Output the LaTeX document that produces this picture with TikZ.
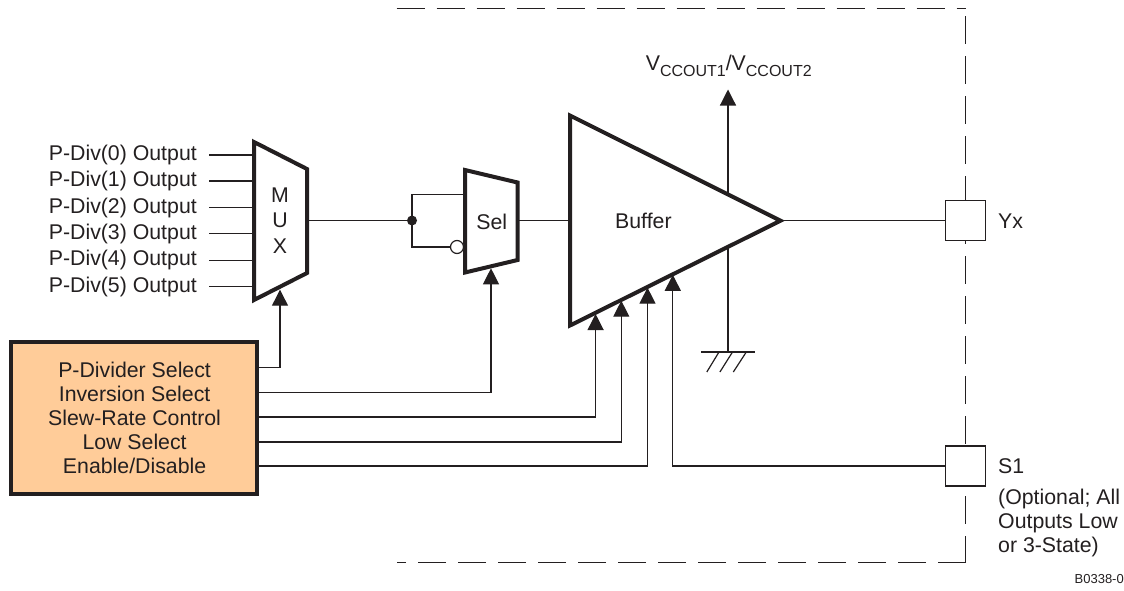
\documentclass[tikz,border=0pt]{standalone}
\usepackage{fontspec}
\setmainfont{Liberation Sans}
\usetikzlibrary{arrows.meta}
\definecolor{ink}{HTML}{231F20}
\definecolor{boxfill}{HTML}{FFCC99}
\tikzset{
  wire/.style={draw=ink,line width=1.2pt},
  arrowwire/.style={wire,-{Triangle[length=16pt,width=16pt]}},
  heavy/.style={draw=ink,line width=4pt,line join=miter,fill=white},
  txt/.style={text=ink,inner sep=0pt,font=\fontsize{21.3}{24}\selectfont},
  pad/.style={draw=ink,line width=1.2pt,fill=white,minimum width=40pt,minimum height=40pt,inner sep=0pt},
  boundary/.style={draw=ink,line width=1.3pt,dash pattern=on 28pt off 12pt}
}
\begin{document}
\begin{tikzpicture}[x=1pt,y=-1pt]
\useasboundingbox (0,0) rectangle (1124,590);
% boundary
\coordinate (bA) at (396.7,8.5);
\coordinate (bB) at (966.3,8.5);
\coordinate (bV) at (965.5,16);
\coordinate (bC) at (965.5,563);
\coordinate (bE) at (966,562.7);
\coordinate (bD) at (396.7,562.7);
\draw[boundary] (bA) -- (bB);
\draw[boundary] (bV) -- (bC);
\draw[boundary] (bE) -- (bD);
% MUX
\coordinate (m1) at (254,142);
\coordinate (m2) at (307,169);
\coordinate (m3) at (307,273);
\coordinate (m4) at (254,300);
\coordinate (mout) at (307,220.5);
\coordinate (msel) at (280,289.7);
% Sel
\coordinate (s1) at (465,170);
\coordinate (s2) at (517.6,182.5);
\coordinate (s3) at (517.6,260);
\coordinate (s4) at (465,272.5);
\coordinate (sout) at (517.6,220.5);
\coordinate (stop) at (465,194.7);
\coordinate (ssel) at (491,268.3);
% Buffer
\coordinate (b1) at (570,115.5);
\coordinate (b2) at (780.5,220.7);
\coordinate (b3) at (570,325.5);
\coordinate (bin) at (570,220.5);
\coordinate (t1) at (595.6,314);
\coordinate (t2) at (621.3,300.7);
\coordinate (t3) at (647.5,287.6);
\coordinate (t4) at (672.8,274.8);
\coordinate (vtop) at (728,195);
\coordinate (vtip) at (728,89.5);
\coordinate (gnd) at (728,352);
\coordinate (jn) at (412,220.5);
\coordinate (bub) at (457,247);
% control box
\node[heavy,fill=boxfill,minimum width=246pt,minimum height=152pt,inner sep=0pt] (ctl) at (133.8,417.5) {};
\node[txt,align=center] (ctltxt) at (134.6,418) {P-Divider Select\\Inversion Select\\Slew-Rate Control\\Low Select\\Enable/Disable};
% pads
\node[pad] (yx) at (965.5,220.7) {};
\node[pad] (sone) at (965.5,466) {};
% inputs
\foreach \i/\yy in {0/155,1/181,2/207.7,3/233.7,4/260.3,5/286.7}{
  \node[txt,anchor=east] (in\i) at (197,\yy) {P-Div(\i) Output};
  \coordinate (ins\i) at (209,\yy);
  \coordinate (ine\i) at (254,\yy);
  \draw[wire] (ins\i) -- (ine\i);
}
% wires
\draw[wire] (mout) -- (jn);
\draw[wire] (stop) -| (jn) |- (bub);
\draw[wire] (sout) -- (bin);
\draw[wire] (b2) -- (yx.west);
\draw[wire] (vtop) -- (gnd);
\draw[arrowwire] (vtop) -- (vtip);
% shapes
\draw[heavy,fill=white] (m1) -- (m2) -- (m3) -- (m4) -- cycle;
\draw[heavy,fill=white] (s1) -- (s2) -- (s3) -- (s4) -- cycle;
\draw[heavy,fill=white] (b1) -- (b2) -- (b3) -- cycle;
% control wires
\coordinate (c1) at (258,367.7);
\coordinate (c2) at (258,392.3);
\coordinate (c3) at (258,417);
\coordinate (c4) at (258,442);
\coordinate (c5) at (258,466);
\draw[arrowwire] (c1) -| (msel);
\draw[arrowwire] (c2) -| (ssel);
\draw[arrowwire] (c3) -| (t1);
\draw[arrowwire] (c4) -| (t2);
\draw[arrowwire] (c5) -| (t3);
\draw[arrowwire] (sone.west) -| (t4);
\node[txt,align=center,font=\fontsize{21.3}{25.5}\selectfont] (muxtxt) at (280,220.5) {M\\U\\X};
\node[txt] (seltxt) at (491.7,221.7) {Sel};
\node[txt] (buftxt) at (643.4,220.7) {Buffer};
% junction & bubble
\fill[ink] (jn) circle (5pt);
\draw[wire,fill=white] (bub) circle (6.5pt);
% ground
\coordinate (g1) at (701,352);
\coordinate (g2) at (755.3,352);
\draw[wire] (g1) -- (g2);
\draw[wire] (719,352) -- (706.8,372);
\draw[wire] (732.5,352) -- (719.9,372);
\draw[wire] (746.3,352) -- (733.3,372);
% labels
\node[txt,anchor=base west] (vcc) at (645.6,70) {V\raisebox{-6pt}{\fontsize{16}{16}\selectfont CCOUT1}/V\raisebox{-6pt}{\fontsize{16}{16}\selectfont CCOUT2}};
\node[txt,anchor=west] (yxl) at (998,221) {Yx};
\node[txt,anchor=west] (sl) at (998,466) {S1};
\node[txt,anchor=north west,align=left] (opt) at (998,489) {(Optional; All\\Outputs Low\\or 3-State)};
\node[text=ink,inner sep=0pt,anchor=east,font=\fontsize{13}{15}\selectfont] (ref) at (1124,579) {B0338-0};
\end{tikzpicture}
\end{document}
